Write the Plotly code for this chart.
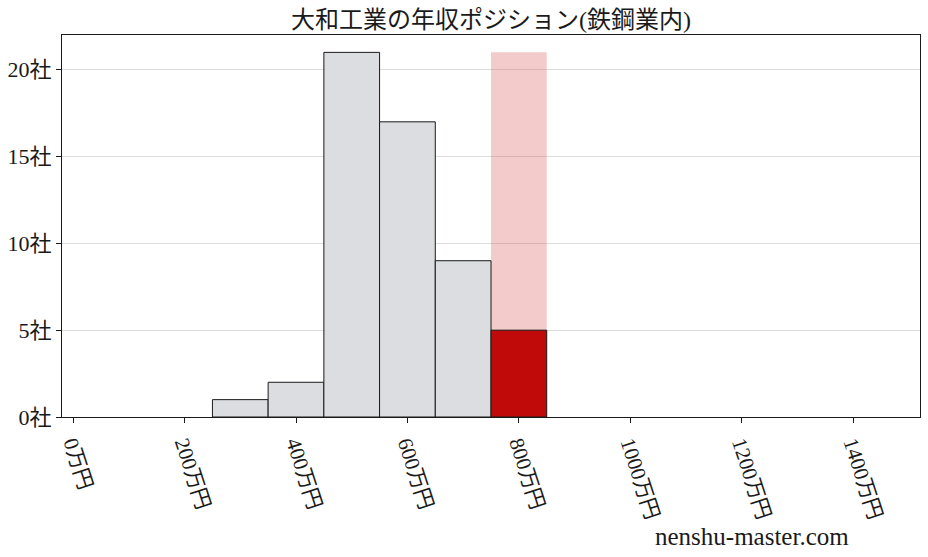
import plotly.graph_objects as go

bin_centers = [300, 400, 500, 600, 700]
counts = [1, 2, 21, 17, 9]
own_center = [800]
own_count = [5]
max_count = [21]
x_ticks = [0, 200, 400, 600, 800, 1000, 1200, 1400]
y_ticks = [0, 5, 10, 15, 20]

FONT = "Liberation Serif, Noto Sans CJK JP"

fig = go.Figure()
fig.add_trace(go.Bar(
    x=own_center, y=max_count, width=100,
    marker=dict(color="rgba(214,84,84,0.3)", line=dict(width=0)),
    hoverinfo="skip",
))
fig.add_trace(go.Bar(
    x=bin_centers, y=counts, width=100,
    marker=dict(color="#dcdde0", line=dict(color="#1a1a1a", width=1)),
))
fig.add_trace(go.Bar(
    x=own_center, y=own_count, width=100,
    marker=dict(color="#c00a0a", line=dict(color="#1a1a1a", width=1)),
))

fig.update_layout(
    width=928, height=557,
    barmode="overlay",
    showlegend=False,
    plot_bgcolor="white",
    paper_bgcolor="white",
    margin=dict(l=62, r=8, t=35, b=140),
    font=dict(family=FONT, size=20, color="#1a1a1a"),
    title=dict(text="大和工業の年収ポジション(鉄鋼業内)", x=0.529, xanchor="center",
               y=0.964, yanchor="middle", font=dict(size=24)),
    annotations=[dict(text="nenshu-master.com", xref="paper", yref="paper",
                      x=0.92, y=-0.314, xanchor="right", yanchor="middle",
                      showarrow=False, font=dict(size=25))],
)
fig.update_xaxes(
    range=[-20, 1520], automargin=False,
    tickvals=x_ticks, ticktext=[f"{v}万円" for v in x_ticks],
    tickangle=72, ticks="outside", ticklen=5, tickcolor="#1a1a1a",
    showgrid=False, zeroline=False,
    showline=True, linecolor="#1a1a1a", linewidth=1, mirror=True,
    tickfont=dict(size=21),
)
fig.update_yaxes(
    range=[0, 22.0], automargin=False,
    tickvals=y_ticks, ticktext=[f"{v}社" for v in y_ticks],
    ticks="outside", ticklen=5, tickcolor="#1a1a1a",
    showgrid=True, gridcolor="#dddddd", gridwidth=1, zeroline=False,
    showline=True, linecolor="#1a1a1a", linewidth=1, mirror=True,
    tickfont=dict(size=22),
)

# drop the page's default body margin so the figure sits at the window corner
fig.write_html(
    "out.html",
    config={"displayModeBar": False},
    post_script="document.body.style.margin = '0';",
)
